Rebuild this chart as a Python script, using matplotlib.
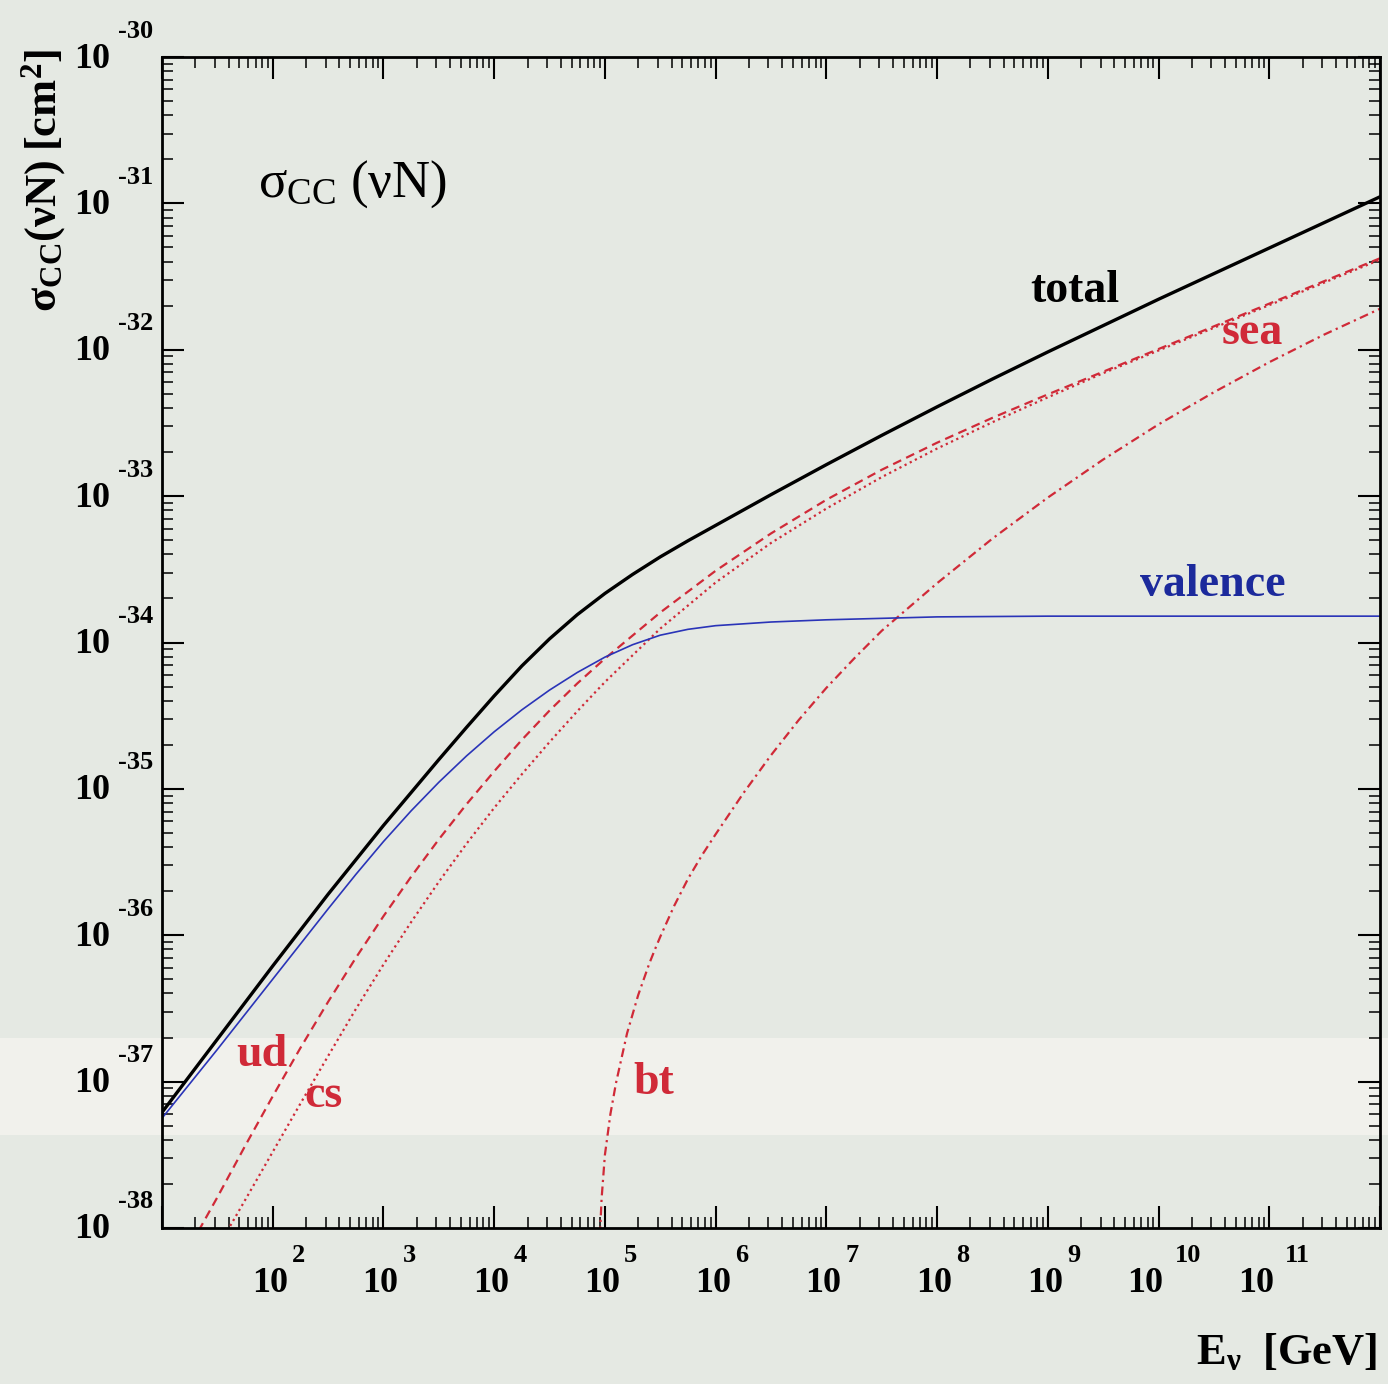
import numpy as np
import matplotlib
matplotlib.use('Agg')
import matplotlib.pyplot as plt
from matplotlib.ticker import LogLocator, NullFormatter
from matplotlib.transforms import offset_copy
from matplotlib.patches import Rectangle

plt.rcParams['font.family'] = ['Liberation Serif', 'DejaVu Serif']
plt.rcParams['mathtext.fontset'] = 'custom'
plt.rcParams['mathtext.rm'] = 'Liberation Serif'
plt.rcParams['mathtext.it'] = 'Liberation Serif:italic'
plt.rcParams['mathtext.bf'] = 'Liberation Serif:bold'
plt.rcParams['mathtext.default'] = 'rm'

# ---- data: log10(E_nu / GeV) and log10(sigma / cm^2) ----
total_logE = [1.0, 1.5, 2.0, 2.5, 3.0, 3.25, 3.5, 3.75, 4.0, 4.25, 4.5, 4.75, 5.0, 5.25,
              5.5, 5.75, 6.0, 6.5, 7.0, 7.5, 8.0, 8.5, 9.0, 9.5, 10.0, 10.5, 11.0,
              11.5, 12.0]
total_logsig = [-37.21, -36.71, -36.21, -35.72, -35.25, -35.025, -34.80, -34.58, -34.365,
                -34.16, -33.975, -33.81, -33.665, -33.535, -33.415, -33.305, -33.20,
                -32.99, -32.785, -32.585, -32.39, -32.20, -32.015, -31.835, -31.655,
                -31.48, -31.305, -31.13, -30.955]

valence_logE = [1.0, 1.5, 2.0, 2.5, 2.75, 3.0, 3.25, 3.5, 3.75, 4.0, 4.25, 4.5, 4.75,
                5.0, 5.25, 5.5, 5.75, 6.0, 6.5, 7.0, 7.5, 8.0, 9.0, 10.0, 11.0, 12.0]
valence_logsig = [-37.25, -36.78, -36.30, -35.82, -35.585, -35.36, -35.15, -34.955,
                  -34.775, -34.61, -34.46, -34.325, -34.205, -34.10, -34.015, -33.95,
                  -33.91, -33.885, -33.86, -33.845, -33.835, -33.825, -33.82, -33.82,
                  -33.82, -33.82]

ud_logE = [1.33, 1.5, 1.75, 2.0, 2.25, 2.5, 2.75, 3.0, 3.25, 3.5, 3.75, 4.0, 4.25, 4.5,
           4.75, 5.0, 5.5, 6.0, 6.5, 7.0, 7.5, 8.0, 8.5, 9.0, 9.5, 10.0, 10.5, 11.0,
           11.5, 12.0]
ud_logsig = [-38.02, -37.79, -37.44, -37.10, -36.77, -36.455, -36.155, -35.87, -35.60,
             -35.345, -35.105, -34.88, -34.665, -34.465, -34.28, -34.11, -33.795, -33.51,
             -33.255, -33.025, -32.82, -32.635, -32.465, -32.305, -32.15, -31.995,
             -31.84, -31.685, -31.53, -31.375]

cs_logE = [1.59, 1.75, 2.0, 2.25, 2.5, 2.75, 3.0, 3.25, 3.5, 3.75, 4.0, 4.25, 4.5, 4.75,
           5.0, 5.5, 6.0, 6.5, 7.0, 7.5, 8.0, 8.5, 9.0, 9.5, 10.0, 10.5, 11.0, 11.5,
           12.0]
cs_logsig = [-38.02, -37.81, -37.48, -37.15, -36.825, -36.505, -36.20, -35.91, -35.635,
             -35.375, -35.13, -34.90, -34.68, -34.47, -34.27, -33.905, -33.59, -33.32,
             -33.085, -32.87, -32.675, -32.495, -32.325, -32.16, -32.005, -31.85,
             -31.695, -31.54, -31.385]

bt_logE = [4.955, 4.97, 5.0, 5.05, 5.1, 5.2, 5.3, 5.4, 5.45, 5.5, 5.625, 5.75, 5.875,
           6.0, 6.25, 6.5, 6.75, 7.0, 7.25, 7.5, 8.0, 8.5, 9.0, 9.5, 10.0, 10.5, 11.0,
           11.5, 12.0]
bt_logsig = [-38.05, -37.80, -37.50, -37.22, -37.01, -36.67, -36.41, -36.195, -36.10,
             -36.01, -35.80, -35.615, -35.455, -35.31, -35.03, -34.77, -34.53, -34.31,
             -34.11, -33.92, -33.595, -33.29, -33.01, -32.75, -32.51, -32.29, -32.085,
             -31.895, -31.72]

x_label_exps = list(range(2, 12))
y_label_exps = list(range(-38, -29))

# ---- style ----
BG = '#e5e9e3'
RED = '#d02a38'
BLUE = '#2a34b8'
W, H = 1388, 1384

fig = plt.figure(figsize=(W / 100, H / 100), dpi=100)
fig.patch.set_facecolor(BG)
fig.add_artist(Rectangle((0, 1 - 1135 / H), 1, 97 / H, transform=fig.transFigure,
                         facecolor='#f1f1ec', edgecolor='none', zorder=-10))

ax = fig.add_axes([162 / W, 1 - 1228 / H, 1218 / W, 1171 / H])
ax.set_facecolor('none')
ax.set_xscale('log')
ax.set_yscale('log')
ax.set_xlim(10.0 ** 1, 10.0 ** 12)
ax.set_ylim(10.0 ** -38, 10.0 ** -30)


def p(le, ls):
    return 10.0 ** np.asarray(le), 10.0 ** np.asarray(ls)


ax.plot(*p(ud_logE, ud_logsig), color=RED, lw=1.6, ls=(0, (4.0, 2.5)))
ax.plot(*p(cs_logE, cs_logsig), color=RED, lw=1.6, ls=(0, (1.0, 1.6)))
ax.plot(*p(bt_logE, bt_logsig), color=RED, lw=1.6, ls=(0, (4.0, 2.0, 1.0, 2.0)))
ax.plot(*p(valence_logE, valence_logsig), color=BLUE, lw=1.2)
ax.plot(*p(total_logE, total_logsig), color='black', lw=2.4)

# ---- ticks ----
ax.xaxis.set_major_locator(LogLocator(base=10, numticks=40))
ax.yaxis.set_major_locator(LogLocator(base=10, numticks=40))
ax.xaxis.set_minor_locator(LogLocator(base=10, subs=np.arange(2, 10), numticks=400))
ax.yaxis.set_minor_locator(LogLocator(base=10, subs=np.arange(2, 10), numticks=400))
for a in (ax.xaxis, ax.yaxis):
    a.set_major_formatter(NullFormatter())
    a.set_minor_formatter(NullFormatter())
ax.tick_params(which='major', direction='in', length=16, width=1.5,
               top=True, right=True, color='black')
ax.tick_params(which='minor', direction='in', length=8, width=1.1,
               top=True, right=True, color='black')
for s in ax.spines.values():
    s.set_linewidth(2.0)

# tick labels "10" with raised exponents
BASE_FS = 26
EXP_FS = 19
tf = dict(fontweight='bold', color='black')
xt = ax.get_xaxis_transform()
for k in x_label_exps:
    two = len(str(k)) > 1
    dx_b = -13 if two else -3
    dx_e = 16 if two else 19
    ax.text(10.0 ** k, 0, '10', fontsize=BASE_FS, ha='center', va='center',
            transform=offset_copy(xt, fig=fig, x=dx_b, y=-56, units='dots'), **tf)
    ax.text(10.0 ** k, 0, str(k), fontsize=EXP_FS, ha='left', va='center',
            transform=offset_copy(xt, fig=fig, x=dx_e, y=-28, units='dots'), **tf)

yt = ax.get_yaxis_transform()
for k in y_label_exps:
    ax.text(0, 10.0 ** k, '10', fontsize=BASE_FS, ha='right', va='center',
            transform=offset_copy(yt, fig=fig, x=-52, y=-2, units='dots'), **tf)
    ax.text(0, 10.0 ** k, str(k), fontsize=EXP_FS, ha='left', va='center',
            transform=offset_copy(yt, fig=fig, x=-44, y=26, units='dots'), **tf)

# axis titles
fig.text(44 / W, 1 - 180 / H, r'$\mathbf{\sigma_{CC}(\nu N)\;[cm^2]}$', rotation=90,
         fontsize=32, ha='center', va='center')
fig.text(1377 / W, 1 - 1352 / H, r'$\mathbf{E_{\nu}\ \ [GeV]}$', fontsize=32,
         ha='right', va='center')

# in-plot annotations
ax.text(10.0 ** 1.87, 10.0 ** -30.87, r'$\sigma_{CC}\,\,(\nu N)$', fontsize=38,
        ha='left', va='center')
lab = dict(fontweight='bold', fontsize=33, ha='center', va='center')
ax.text(10.0 ** 9.24, 10.0 ** -31.60, 'total', color='black', **lab)
ax.text(10.0 ** 10.85, 10.0 ** -31.885, 'sea', color=RED, **lab)
ax.text(10.0 ** 10.49, 10.0 ** -33.61, 'valence', color='#1c2a9c', **lab)
ax.text(10.0 ** 1.90, 10.0 ** -36.82, 'ud', color=RED, **lab)
ax.text(10.0 ** 2.46, 10.0 ** -37.10, 'cs', color=RED, **lab)
ax.text(10.0 ** 5.44, 10.0 ** -37.01, 'bt', color=RED, **lab)

fig.savefig('out.png', dpi=100, facecolor=fig.get_facecolor())
